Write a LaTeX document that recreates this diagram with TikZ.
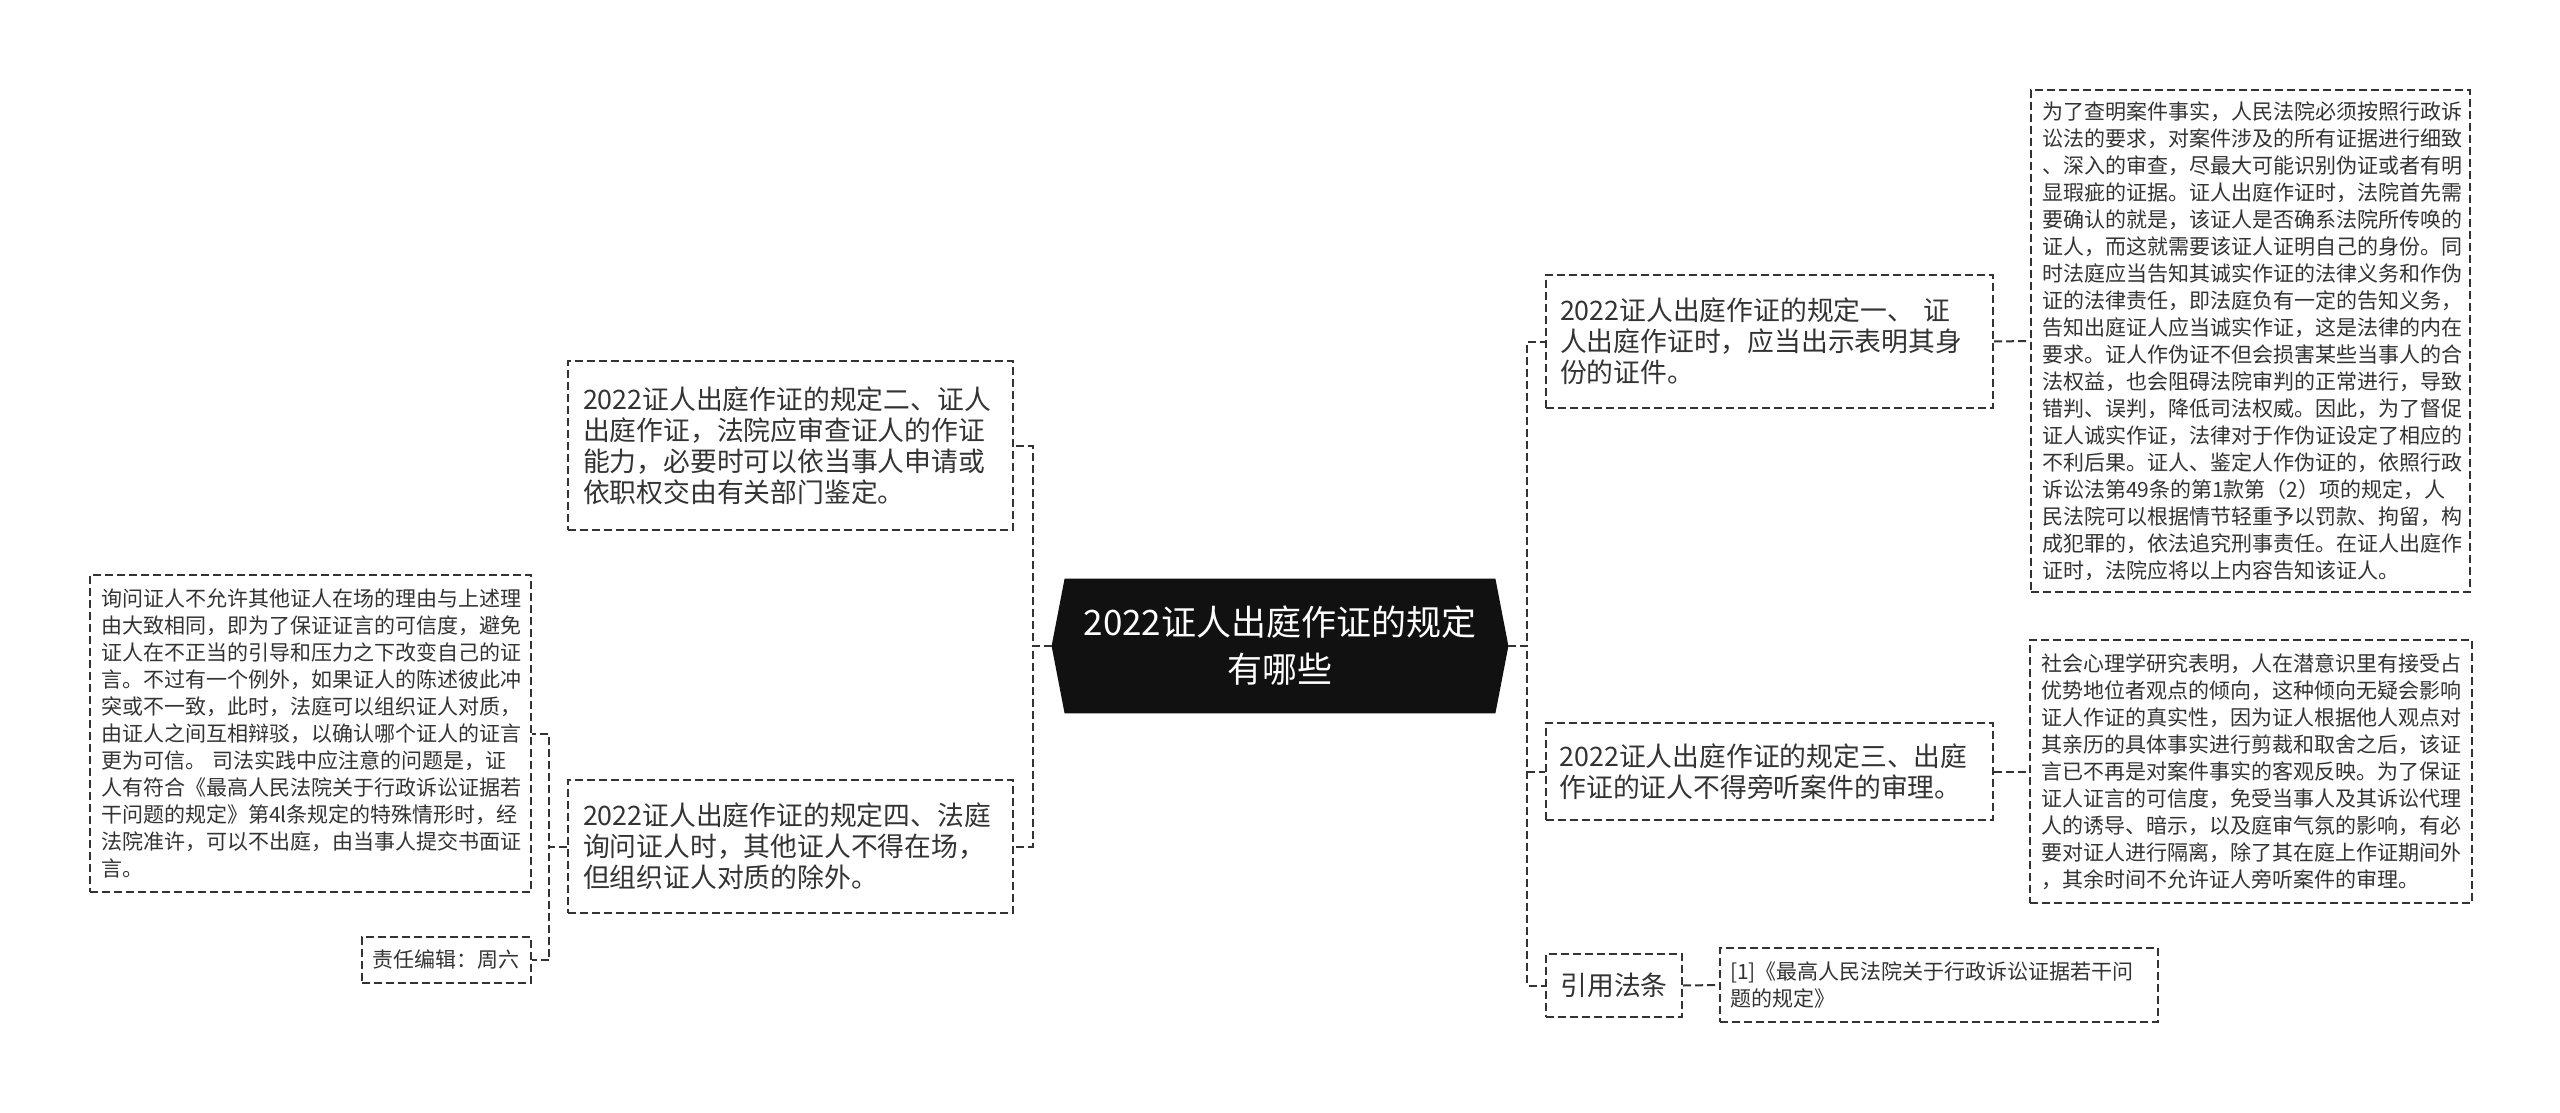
\documentclass[tikz,border=0pt]{standalone}
\usepackage{fontspec}
\setmainfont{Noto Sans CJK SC}
\usepackage{tikz}
\usetikzlibrary{backgrounds}

\definecolor{inkgray}{RGB}{51,51,51}
\definecolor{rootfill}{RGB}{17,17,17}

\tikzset{
  link/.style={draw=inkgray, line width=1pt, dash pattern=on 4pt off 2pt},
  topic/.style={draw=inkgray, line width=1pt, dash pattern=on 4pt off 2pt, text=inkgray, align=left,
    inner xsep=7pt, inner ysep=0pt, font=\fontsize{13.4pt}{15.5pt}\selectfont},
  detail/.style={topic, inner xsep=5.5pt, font=\fontsize{10.5pt}{13.5pt}\selectfont},
}

\begin{document}
\begin{tikzpicture}[x=0.5pt,y=0.5pt,yscale=-1,xscale=1]
\useasboundingbox (0,0) rectangle (2560,1113);

% Root Node
\node[text=white, align=center, minimum width=228pt, minimum height=67pt, inner sep=0pt,
  font=\fontsize{17.5pt}{23.5pt}\selectfont] (root) at (1280,646) {2022证人出庭作证的规定\\有哪些};
\begin{scope}[on background layer]
\fill[white] (0,0) rectangle (2560,1113);
\fill[rootfill] ([xshift=6.5pt]root.north west) -- (root.west) -- ([xshift=6.5pt]root.south west)
  -- ([xshift=-6.5pt]root.south east) -- (root.east) -- ([xshift=-6.5pt]root.north east) -- cycle;
\end{scope}

% Text Node
\node[topic, text width=209.5pt, minimum height=66.5pt] (n1) at (1769.5,341.5)
  {2022证人出庭作证的规定一、~证\\人出庭作证时，应当出示表明其身\\份的证件。};
% Text Node
\node[detail, text width=208.5pt, minimum height=251pt] (d1) at (2250.5,341)
  {为了查明案件事实，人民法院必须按照行政诉\\讼法的要求，对案件涉及的所有证据进行细致\\、深入的审查，尽最大可能识别伪证或者有明\\显瑕疵的证据。证人出庭作证时，法院首先需\\要确认的就是，该证人是否确系法院所传唤的\\证人，而这就需要该证人证明自己的身份。同\\时法庭应当告知其诚实作证的法律义务和作伪\\证的法律责任，即法庭负有一定的告知义务，\\告知出庭证人应当诚实作证，这是法律的内在\\要求。证人作伪证不但会损害某些当事人的合\\法权益，也会阻碍法院审判的正常进行，导致\\错判、误判，降低司法权威。因此，为了督促\\证人诚实作证，法律对于作伪证设定了相应的\\不利后果。证人、鉴定人作伪证的，依照行政\\诉讼法第49条的第1款第（2）项的规定，人\\民法院可以根据情节轻重予以罚款、拘留，构\\成犯罪的，依法追究刑事责任。在证人出庭作\\证时，法院应将以上内容告知该证人。};
% Text Node
\node[topic, text width=209.5pt, minimum height=48.5pt] (n3) at (1769,771.5)
  {2022证人出庭作证的规定三、出庭\\作证的证人不得旁听案件的审理。};
% Text Node
\node[detail, text width=210pt, minimum height=131.5pt] (d3) at (2251,771.5)
  {社会心理学研究表明，人在潜意识里有接受占\\优势地位者观点的倾向，这种倾向无疑会影响\\证人作证的真实性，因为证人根据他人观点对\\其亲历的具体事实进行剪裁和取舍之后，该证\\言已不再是对案件事实的客观反映。为了保证\\证人证言的可信度，免受当事人及其诉讼代理\\人的诱导、暗示，以及庭审气氛的影响，有必\\要对证人进行隔离，除了其在庭上作证期间外\\，其余时间不允许证人旁听案件的审理。};
% Text Node
\node[topic, align=center, minimum width=68pt, minimum height=31.5pt] (n5) at (1614,985.5) {引用法条};
% Text Node
\node[detail, inner xsep=5pt, text width=209pt, minimum height=37pt] (c5) at (1939,985)
  {[1]《最高人民法院关于行政诉讼证据若干问\\题的规定》};
% Text Node
\node[topic, inner xsep=7.5pt, text width=207.5pt, minimum height=84.5pt] (n2) at (790.5,445.5)
  {2022证人出庭作证的规定二、证人\\出庭作证，法院应审查证人的作证\\能力，必要时可以依当事人申请或\\依职权交由有关部门鉴定。};
% Text Node
\node[topic, inner xsep=7.5pt, text width=207.5pt, minimum height=66.5pt] (n4) at (790.5,846.5)
  {2022证人出庭作证的规定四、法庭\\询问证人时，其他证人不得在场，\\但组织证人对质的除外。};
% Text Node
\node[detail, text width=209.5pt, minimum height=158.5pt] (d4) at (310.5,733.5)
  {询问证人不允许其他证人在场的理由与上述理\\由大致相同，即为了保证证言的可信度，避免\\证人在不正当的引导和压力之下改变自己的证\\言。不过有一个例外，如果证人的陈述彼此冲\\突或不一致，此时，法庭可以组织证人对质，\\由证人之间互相辩驳，以确认哪个证人的证言\\更为可信。~司法实践中应注意的问题是，证\\人有符合《最高人民法院关于行政诉讼证据若\\干问题的规定》第4l条规定的特殊情形时，经\\法院准许，可以不出庭，由当事人提交书面证\\言。};
% Text Node
\node[detail, align=center, minimum width=84pt, minimum height=23pt] (e4) at (446,960) {责任编辑：周六};

%Connectors
\draw[link] (root.east) -- ++(19,0) |- (n1.west);
\draw[link] (root.east) -- ++(19,0) |- (n3.west);
\draw[link] (root.east) -- ++(19,0) |- (n5.west);
\draw[link] (root.west) -- ++(-19,0) |- (n2.east);
\draw[link] (root.west) -- ++(-19,0) |- (n4.east);
\draw[link] (n1.east) -- (d1.west);
\draw[link] (n3.east) -- (d3.west);
\draw[link] (n5.east) -- (c5.west);
\draw[link] (n4.west) -- ++(-18,0) |- (d4.east);
\draw[link] (n4.west) -- ++(-18,0) |- (e4.east);

\end{tikzpicture}
\end{document}
